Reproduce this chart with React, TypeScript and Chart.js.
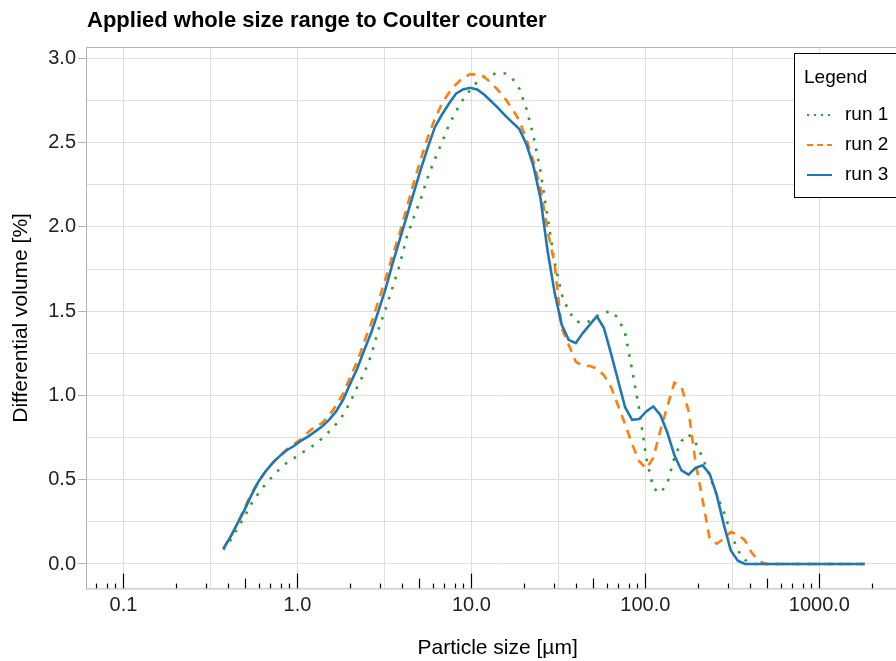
import React, { useEffect, useRef } from 'react';
import { Chart, registerables } from 'chart.js';

Chart.register(...registerables);

const TITLE = 'Applied whole size range to Coulter counter';
const X_TITLE = 'Particle size [µm]';
const Y_TITLE = 'Differential volume [%]';
const LEGEND_TITLE = 'Legend';
const SERIES_NAMES = ['run 1', 'run 2', 'run 3'];
const SERIES_COLORS = ['#2ca02c', '#ff7f0e', '#1f77b4'];
const SERIES_DASH = [[2.6, 8], [9, 7], []];

// particle size channels [µm]
const sizes = [
  0.375, 0.412, 0.452, 0.496, 0.545, 0.598, 0.657, 0.721, 0.791, 0.869,
  0.954, 1.047, 1.149, 1.261, 1.385, 1.52, 1.669, 1.832, 2.011, 2.208,
  2.423, 2.66, 2.92, 3.206, 3.519, 3.862, 4.241, 4.656, 5.111, 5.611,
  6.159, 6.761, 7.422, 8.148, 8.944, 9.819, 10.78, 11.83, 12.99, 14.26,
  15.65, 17.18, 18.86, 20.71, 22.73, 24.95, 27.39, 30.07, 33.01, 36.24,
  39.78, 43.67, 47.94, 52.62, 57.77, 63.41, 69.61, 76.42, 83.89, 92.09,
  101.1, 111.0, 121.8, 133.7, 146.8, 161.2, 176.9, 194.2, 213.2, 234.1,
  256.9, 282.1, 309.6, 339.9, 373.1, 409.6, 449.7, 493.6, 541.9, 594.9,
  653.0, 716.8, 786.9, 863.9, 948.3, 1041, 1143, 1255, 1377, 1512,
  1660, 1822,
];

const run1 = [
  0.085, 0.14, 0.21, 0.28, 0.36, 0.42, 0.475, 0.52, 0.565, 0.6,
  0.627, 0.657, 0.68, 0.71, 0.745, 0.785, 0.83, 0.885, 0.96, 1.05,
  1.135, 1.24, 1.39, 1.51, 1.64, 1.77, 1.935, 2.055, 2.165, 2.295,
  2.4, 2.5, 2.605, 2.685, 2.755, 2.81, 2.86, 2.89, 2.905, 2.91,
  2.91, 2.88, 2.82, 2.7, 2.54, 2.33, 2.06, 1.79, 1.6, 1.5,
  1.44, 1.43, 1.44, 1.47, 1.49, 1.5, 1.46, 1.37, 1.15, 0.92,
  0.63, 0.45, 0.42, 0.48, 0.63, 0.73, 0.77, 0.72, 0.63, 0.525,
  0.41, 0.31, 0.185, 0.08, 0.025, 0, 0, 0, 0, 0,
  0, 0, 0, 0, 0, 0, 0, 0, 0, 0,
  0, 0,
];

const run2 = [
  0.09, 0.16, 0.24, 0.33, 0.42, 0.49, 0.55, 0.6, 0.645, 0.68,
  0.71, 0.74, 0.78, 0.815, 0.835, 0.88, 0.94, 1.01, 1.11, 1.2,
  1.32, 1.43, 1.56, 1.69, 1.83, 1.96, 2.11, 2.26, 2.4, 2.53,
  2.64, 2.73, 2.795, 2.845, 2.885, 2.905, 2.905, 2.89, 2.855, 2.81,
  2.76, 2.7, 2.63, 2.52, 2.39, 2.23, 1.98, 1.78, 1.4, 1.3,
  1.2, 1.175, 1.175, 1.16, 1.12, 1.05, 0.94, 0.83, 0.71, 0.61,
  0.565, 0.63, 0.79, 0.935, 1.075, 1.05, 0.91, 0.6, 0.38, 0.15,
  0.12, 0.15, 0.19, 0.175, 0.14, 0.065, 0.018, 0, 0, 0,
  0, 0, 0, 0, 0, 0, 0, 0, 0, 0,
  0, 0,
];

const run3 = [
  0.09, 0.16, 0.24, 0.32, 0.41, 0.49, 0.55, 0.6, 0.64, 0.675,
  0.7, 0.73, 0.755, 0.785, 0.815, 0.855, 0.905, 0.975, 1.07, 1.16,
  1.27, 1.375, 1.5, 1.63, 1.78, 1.92, 2.06, 2.2, 2.34, 2.47,
  2.59, 2.665, 2.73, 2.79, 2.815, 2.825, 2.815, 2.785, 2.745, 2.705,
  2.66, 2.62, 2.58, 2.49, 2.36, 2.17, 1.86, 1.61, 1.42, 1.33,
  1.31, 1.37, 1.42, 1.47, 1.4, 1.25, 1.09, 0.93, 0.855, 0.86,
  0.905, 0.935, 0.885, 0.78, 0.645, 0.555, 0.53, 0.57, 0.585, 0.535,
  0.41, 0.235, 0.08, 0.02, 0, 0, 0, 0, 0, 0,
  0, 0, 0, 0, 0, 0, 0, 0, 0, 0,
  0, 0,
];

const SERIES = [run1, run2, run3];

const xTickValues = [0.1, 1, 10, 100, 1000];
const xTickLabels = ['0.1', '1.0', '10.0', '100.0', '1000.0'];
const xMinorGrid = [0.3162, 3.162, 31.62, 316.2, 3162];
const yTickValues = [0, 0.5, 1, 1.5, 2, 2.5, 3];
const yTickLabels = ['0.0', '0.5', '1.0', '1.5', '2.0', '2.5', '3.0'];
const yMinorGrid = [0.25, 0.75, 1.25, 1.75, 2.25, 2.75];
const logTickMultipliers = [1, 2, 3, 4, 5, 6, 7, 8, 9];
const logTickDecades = [0.01, 0.1, 1, 10, 100, 1000];

const X_MIN = 0.06095;
const X_MAX = 3282;
const Y_MIN = -0.146;
const Y_MAX = 3.066;

const FONT = '"Liberation Sans", Arial, Helvetica, sans-serif';

const decorPlugin = {
  id: 'decor',
  beforeDatasetsDraw(chart: any) {
    const { ctx, chartArea: a, scales } = chart;
    const xs = scales.x;
    ctx.save();
    ctx.strokeStyle = '#000';
    ctx.lineWidth = 1.2;
    for (const d of logTickDecades) {
      for (const m of logTickMultipliers) {
        const v = d * m;
        if (v < X_MIN || v > X_MAX) continue;
        const px = Math.round(xs.getPixelForValue(v)) + 0.5;
        const len = m === 1 ? 15 : m === 5 ? 10 : 5;
        ctx.beginPath();
        ctx.moveTo(px, a.bottom);
        ctx.lineTo(px, a.bottom - len);
        ctx.stroke();
      }
    }
    ctx.restore();
  },
  afterDraw(chart: any) {
    const { ctx, chartArea: a } = chart;
    ctx.save();
    // panel border
    ctx.strokeStyle = '#b3b3b3';
    ctx.lineWidth = 1;
    ctx.strokeRect(Math.round(a.left) + 0.5, Math.round(a.top) + 0.5, a.right - a.left, a.bottom - a.top);

    // title
    ctx.fillStyle = '#000';
    ctx.font = `bold 22px ${FONT}`;
    ctx.textAlign = 'left';
    ctx.textBaseline = 'middle';
    ctx.fillText(TITLE, 87, 21);

    // legend
    const lx = 794, ly = 53, lw = 130, lh = 144;
    ctx.fillStyle = '#fff';
    ctx.fillRect(lx, ly, lw, lh);
    ctx.strokeStyle = '#000';
    ctx.lineWidth = 1;
    ctx.strokeRect(lx + 0.5, ly + 0.5, lw, lh);
    ctx.fillStyle = '#000';
    ctx.font = `19px ${FONT}`;
    ctx.fillText(LEGEND_TITLE, 804, 78);
    SERIES_NAMES.forEach((name, i) => {
      const cy = 115 + i * 30;
      ctx.save();
      ctx.strokeStyle = SERIES_COLORS[i];
      ctx.lineWidth = 2;
      ctx.setLineDash(SERIES_DASH[i].length ? (i === 0 ? [2, 5] : [6, 4]) : []);
      ctx.beginPath();
      ctx.moveTo(807, cy);
      ctx.lineTo(832, cy);
      ctx.stroke();
      ctx.restore();
      ctx.fillStyle = '#000';
      ctx.fillText(name, 845, cy);
    });
    ctx.restore();
  },
};

export default function App() {
  const ref = useRef<HTMLCanvasElement | null>(null);

  useEffect(() => {
    if (!ref.current) return;
    const datasets = SERIES.map((vals, i) => ({
      label: SERIES_NAMES[i],
      data: sizes.map((s, k) => ({ x: s, y: vals[k] })),
      borderColor: SERIES_COLORS[i],
      backgroundColor: SERIES_COLORS[i],
      borderWidth: 2.6,
      borderDash: SERIES_DASH[i],
      borderCapStyle: 'butt',
      pointRadius: 0,
      tension: 0,
      fill: false,
      order: 2 - i,
    }));

    const chart = new Chart(ref.current, {
      type: 'line',
      data: { datasets: datasets as any },
      plugins: [decorPlugin],
      options: {
        animation: false,
        responsive: true,
        maintainAspectRatio: false,
        devicePixelRatio: 1,
        layout: { padding: { top: 47.2, right: 10.8, bottom: 0, left: 0 } },
        plugins: {
          legend: { display: false },
          tooltip: { enabled: false },
          title: { display: false },
        },
        scales: {
          x: {
            type: 'logarithmic',
            min: X_MIN,
            max: X_MAX,
            bounds: 'data',
            afterFit: (s: any) => { s.height = 72.4; },
            afterBuildTicks: (s: any) => {
              s.ticks = [...xTickValues, ...xMinorGrid].sort((p, q) => p - q).map((v) => ({ value: v }));
            },
            ticks: {
              autoSkip: false,
              maxRotation: 0,
              padding: 5,
              color: '#222',
              font: { family: FONT, size: 20 },
              callback: (v: any) => {
                const idx = xTickValues.findIndex((t) => Math.abs(t - Number(v)) < 1e-9);
                return idx >= 0 ? xTickLabels[idx] : '';
              },
            },
            grid: { color: '#dedede', lineWidth: 1, drawTicks: false },
            border: { display: false },
            title: {
              display: true,
              text: X_TITLE,
              color: '#000',
              font: { family: FONT, size: 21 },
              padding: { top: 0, bottom: 0 },
            },
          },
          y: {
            type: 'linear',
            min: Y_MIN,
            max: Y_MAX,
            bounds: 'data',
            afterFit: (s: any) => { s.width = 86; },
            afterBuildTicks: (s: any) => {
              s.ticks = [...yTickValues, ...yMinorGrid].sort((p, q) => p - q).map((v) => ({ value: v }));
            },
            ticks: {
              autoSkip: false,
              padding: 2,
              color: '#222',
              font: { family: FONT, size: 20 },
              callback: (v: any) => {
                const idx = yTickValues.findIndex((t) => Math.abs(t - Number(v)) < 1e-9);
                return idx >= 0 ? yTickLabels[idx] : '';
              },
            },
            grid: {
              color: '#dedede',
              lineWidth: 1,
              tickLength: 8,
              tickColor: (c: any) =>
                yTickValues.some((t) => Math.abs(t - c.tick?.value) < 1e-9) ? '#b3b3b3' : 'rgba(0,0,0,0)',
            },
            border: { display: false },
            title: {
              display: true,
              text: Y_TITLE,
              color: '#000',
              font: { family: FONT, size: 21 },
              padding: { top: 8.5, bottom: 0 },
            },
          },
        },
      },
    });
    return () => chart.destroy();
  }, []);

  return (
    <div style={{ position: 'fixed', left: 0, top: 0, width: 896, height: 661, overflow: 'hidden', background: '#fff' }}>
      <div style={{ position: 'relative', width: 920, height: 661 }}>
        <canvas ref={ref} />
      </div>
    </div>
  );
}
